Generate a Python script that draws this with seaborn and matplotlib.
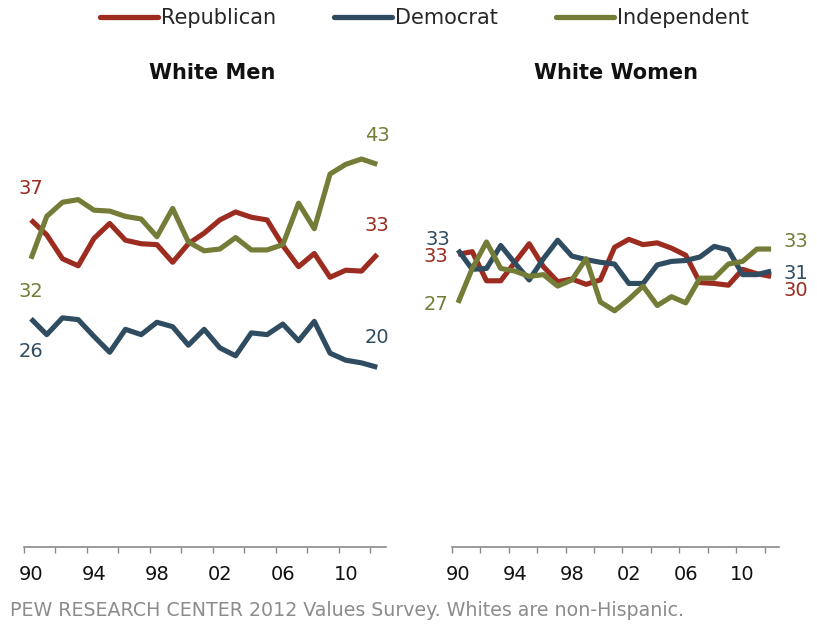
import numpy as np
import pandas as pd
import seaborn as sns
import matplotlib
matplotlib.use("Agg")
import matplotlib.pyplot as plt
from matplotlib.lines import Line2D

years = list(range(1990, 2013))

men_rep = [36.7, 35.0, 32.3, 31.5, 34.6, 36.3, 34.4, 34.0, 33.9, 31.9, 34.0, 35.2,
           36.7, 37.6, 37.0, 36.7, 33.8, 31.4, 32.9, 30.2, 31.0, 30.9, 32.8]
men_dem = [25.5, 23.7, 25.6, 25.4, 23.5, 21.7, 24.3, 23.7, 25.1, 24.6, 22.5, 24.3,
           22.2, 21.3, 23.9, 23.7, 24.9, 23.0, 25.2, 21.6, 20.8, 20.5, 20.0]
men_ind = [32.3, 37.1, 38.7, 39.0, 37.8, 37.7, 37.1, 36.8, 34.8, 38.0, 34.2, 33.2,
           33.4, 34.7, 33.3, 33.3, 33.9, 38.6, 35.7, 41.9, 43.0, 43.6, 43.0]

women_rep = [32.8, 33.1, 29.8, 29.8, 31.9, 34.0, 31.4, 29.7, 30.0, 29.4, 29.9, 33.6,
             34.5, 33.9, 34.1, 33.5, 32.7, 29.6, 29.5, 29.3, 31.1, 30.6, 30.3]
women_dem = [33.3, 31.1, 31.2, 33.8, 31.8, 29.9, 32.3, 34.4, 32.6, 32.2, 31.9, 31.7,
             29.5, 29.5, 31.6, 32.0, 32.1, 32.5, 33.7, 33.3, 30.5, 30.5, 30.9]
women_ind = [27.3, 31.2, 34.2, 31.2, 30.9, 30.3, 30.5, 29.2, 29.9, 32.3, 27.4, 26.4,
             27.7, 29.2, 27.0, 28.0, 27.3, 30.1, 30.1, 31.7, 32.0, 33.4, 33.4]

parties = ["Republican", "Democrat", "Independent"]
colors = {"Republican": "#9c2b20", "Democrat": "#2f4c61", "Independent": "#747c38"}
tick_years = [1990, 1994, 1998, 2002, 2006, 2010]
tick_labels = ["90", "94", "98", "02", "06", "10"]
start_labels_men = ["37", "26", "32"]
end_labels_men = ["33", "20", "43"]
start_labels_women = ["33", "33", "27"]
end_labels_women = ["30", "31", "33"]

rows = []
for panel, series in (("men", (men_rep, men_dem, men_ind)),
                      ("women", (women_rep, women_dem, women_ind))):
    for party, vals in zip(parties, series):
        for y, v in zip(years, vals):
            rows.append({"panel": panel, "party": party, "year": y, "share": v})
df = pd.DataFrame(rows)

sns.set_style("white")
plt.rcParams["font.family"] = ["DejaVu Sans"]

W, H = 817, 635
fig = plt.figure(figsize=(W / 100, H / 100), dpi=100)

def px(x0, y0, x1, y1):
    return [x0 / W, 1 - y1 / H, (x1 - x0) / W, (y1 - y0) / H]

ax1 = fig.add_axes(px(24, 120.2, 386, 547.3))
ax2 = fig.add_axes(px(451.7, 120.2, 779, 547.3))

for ax, panel in ((ax1, "men"), (ax2, "women")):
    sub = df[df.panel == panel]
    sns.lineplot(data=sub, x="year", y="share", hue="party", hue_order=parties,
                 palette=colors, linewidth=3.7, ax=ax, legend=False)
    for ln in ax.get_lines():
        ln.set_solid_joinstyle("round")
        ln.set_solid_capstyle("butt")
    ax.set_xlim(1989.555, 2012.555)
    ax.set_ylim(-0.4, 48)
    for s in ("top", "right", "left"):
        ax.spines[s].set_visible(False)
    ax.spines["bottom"].set_color("#8a8a8a")
    ax.spines["bottom"].set_linewidth(1.2)
    ax.set_yticks([])
    ax.set_xticks(tick_years)
    ax.set_xticklabels(tick_labels, fontsize=14, color="#111111")
    ax.set_xticks(np.arange(1989.555, 2012.0, 2), minor=True)
    ax.tick_params(axis="x", which="major", length=0, pad=13)
    ax.tick_params(axis="x", which="minor", length=4.5, width=1, color="#8a8a8a",
                   direction="out", bottom=True)
    ax.set_xlabel("")
    ax.set_ylabel("")
    ax.set_facecolor("none")

def pt(p):
    return p * 0.72

# Men labels
men_series = [men_rep, men_dem, men_ind]
start_off_men = [31, -33, -33]
end_off_men = [29, 30, 29]
for party, vals, lab, off in zip(parties, men_series, start_labels_men, start_off_men):
    ax1.annotate(lab, xy=(years[0], vals[0]), xytext=(0, pt(off)), textcoords="offset points",
                 ha="center", va="center", fontsize=14, color=colors[party])
for party, vals, lab, off in zip(parties, men_series, end_labels_men, end_off_men):
    ax1.annotate(lab, xy=(years[-1], vals[-1]), xytext=(0, pt(off)), textcoords="offset points",
                 ha="center", va="center", fontsize=14, color=colors[party])

# Women labels
women_series = [women_rep, women_dem, women_ind]
start_off_w = [(-10, -2), (-8, 10.6), (-10, -2)]
end_off_w = [(12, -14), (12, -2), (12, 8)]
for party, vals, lab, (dx, dy) in zip(parties, women_series, start_labels_women, start_off_w):
    ax2.annotate(lab, xy=(years[0], vals[0]), xytext=(pt(dx), pt(dy)), textcoords="offset points",
                 ha="right", va="center", fontsize=14, color=colors[party])
for party, vals, lab, (dx, dy) in zip(parties, women_series, end_labels_women, end_off_w):
    ax2.annotate(lab, xy=(years[-1], vals[-1]), xytext=(pt(dx), pt(dy)), textcoords="offset points",
                 ha="left", va="center", fontsize=14, color=colors[party])

# Titles
fig.text(212 / W, 1 - 73 / H, "White Men", ha="center", va="center",
         fontsize=15, fontweight="bold", color="#111111")
fig.text(616 / W, 1 - 73 / H, "White Women", ha="center", va="center",
         fontsize=15, fontweight="bold", color="#111111")

# Legend
handles = [Line2D([0], [0], color=colors[p], linewidth=3.8, solid_capstyle="round") for p in parties]
fig.legend(handles, parties, loc="center left", bbox_to_anchor=(100 / W, 1 - 18 / H),
           ncol=3, frameon=False, fontsize=15, handlelength=2.8, handletextpad=0.15,
           columnspacing=2.75, borderpad=0, borderaxespad=0)

# Footer
fig.text(10 / W, 1 - 610 / H, "PEW RESEARCH CENTER 2012 Values Survey. Whites are non-Hispanic.",
         ha="left", va="center", fontsize=13.7, color="#8c8c8c")

fig.savefig("out.png", dpi=100)
